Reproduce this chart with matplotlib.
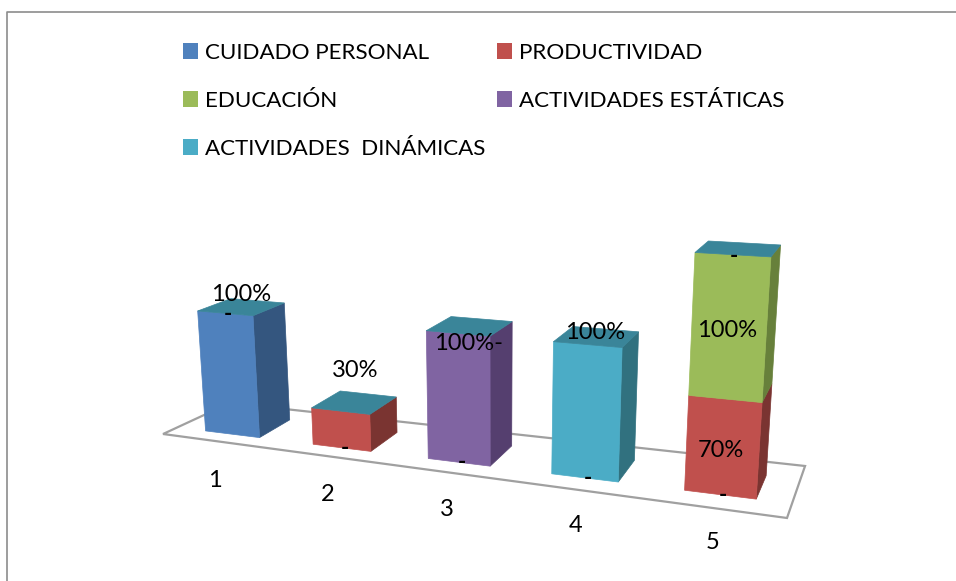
import numpy as np
import matplotlib
matplotlib.use("Agg")
import matplotlib.pyplot as plt
from matplotlib.patches import Patch, Polygon

categories = ["1", "2", "3", "4", "5"]
series_names = ["CUIDADO PERSONAL", "PRODUCTIVIDAD", "EDUCACIÓN", "ACTIVIDADES ESTÁTICAS", "ACTIVIDADES  DINÁMICAS"]
cuidado = [100, 0, 0, 0, 0]
productividad = [0, 30, 0, 0, 70]
educacion = [0, 0, 0, 0, 100]
estaticas = [0, 0, 100, 0, 0]
dinamicas = [0, 0, 0, 100, 0]
series = [cuidado, productividad, educacion, estaticas, dinamicas]

front_colors = ["#4F81BD", "#C0504D", "#9BBB59", "#8064A2", "#4BACC6"]
side_colors = ["#34567F", "#7A3431", "#67803B", "#553F6F", "#31717F"]
top_color = "#3A8599"

# camera fitted to the picture: x = category, y = depth, z = share (1 = 100%)
P = np.array([[98.118906, 42.92805, -13.262569, 232.320322],
              [-1.256791, 1.282274, -129.310247, 434.227154],
              [-0.033074, 0.044921, -0.026829, 1.0]])
BAR_W = 0.51


def project(x, y, z):
    u, v, w = P @ np.array([x, y, z / 100, 1.0])
    return u / w, v / w


def box_face(ax, corners, color):
    ax.add_patch(Polygon([project(*c) for c in corners], closed=True, fc=color, ec=color, lw=0.5, zorder=3))


fig = plt.figure(figsize=(9.56, 5.81), dpi=100)
ax = fig.add_axes([0, 0, 1, 1])
ax.set_xlim(0, 956)
ax.set_ylim(581, 0)
ax.axis("off")
plt.rcParams["font.family"] = ["Lato", "DejaVu Sans"]
FS = 16.1
FS_VAL = 17

# chart border, only left and top show
ax.plot([7.5, 7.5, 956], [581, 12, 12], color="#8C8C8C", lw=1.2, zorder=1)

# floor
floor = [(-0.54, -0.376), (4.502, -0.559), (4.503, 1.627), (-0.487, 1.507)]
ax.add_patch(Polygon([project(x, y, 0) for x, y in floor], closed=True, fc="white", ec="#A0A0A0", lw=1.6, zorder=2))

# stacked bars
for i in range(len(categories)):
    x0, x1 = i - BAR_W / 2, i + BAR_W / 2
    base = 0
    for s, vals in enumerate(series):
        v = vals[i]
        if v == 0:
            continue
        top = base + v
        box_face(ax, [(x1, 0, base), (x1, 1, base), (x1, 1, top), (x1, 0, top)], side_colors[s])
        box_face(ax, [(x0, 0, base), (x1, 0, base), (x1, 0, top), (x0, 0, top)], front_colors[s])
        base = top
    box_face(ax, [(x0, 0, base), (x1, 0, base), (x1, 1, base), (x0, 1, base)], top_color)

# category labels below the floor
for i, name in enumerate(categories):
    u, v = project(i, 0, 0)
    ax.text(u - 17 + 2.5 * i, v + 46 + 0.5 * i, name, fontsize=FS_VAL, ha="center", va="center", zorder=5)

# value labels: moved by hand in the original, so offsets from the top front edge
label_offsets = {0: (16, -19), 1: (15, -41), 3: (8, -12.5)}
for i, (dx, dy) in label_offsets.items():
    total = sum(vals[i] for vals in series)
    u, v = project(i, 0, total)
    ax.text(u + dx, v + dy, f"{total}%", fontsize=FS_VAL, ha="center", va="center", zorder=5)

# bar 3 has its value and the "-" of an empty series run together
u, v = project(2, 0, estaticas[2])
ax.text(u - 23.5, v + 10, f"{estaticas[2]}%-", fontsize=FS_VAL, ha="left", va="center", zorder=5)

# stacked labels on bar 5 sit mid segment
base = 0
for vals in series:
    if vals[4]:
        u, v = project(4, 0, base + vals[4] / 2)
        ax.text(u - 1.5, v + 3, f"{vals[4]}%", fontsize=FS_VAL, ha="center", va="center", zorder=5)
        base += vals[4]

# the "-" labels of the empty series
for i in range(1, len(categories)):
    u, v = project(i, 0, 0)
    ax.text(u + 3, v + 0.5, "-", fontsize=FS, fontweight="bold", ha="center", va="center", zorder=5)
u, v = project(0, 0, 100)
ax.text(u + 2.5, v + 1.5, "-", fontsize=FS, fontweight="bold", ha="center", va="center", zorder=5)
u, v = project(4, 0, 170)
ax.text(u + 1, v + 2, "-", fontsize=FS, fontweight="bold", ha="center", va="center", zorder=5)

# legend is filled column by column
order = [0, 2, 4, 1, 3]
handles = [Patch(fc=front_colors[s], ec="none", label=series_names[s]) for s in order]
ax.legend(handles=handles, ncol=2, loc="upper left", bbox_to_anchor=(183, 43), bbox_transform=ax.transData,
          frameon=False, fontsize=FS, handlelength=0.68, handleheight=0.68, handletextpad=0.32,
          labelspacing=1.25, columnspacing=0.5, borderpad=0, borderaxespad=0)

plt.savefig("out.png", dpi=100)
plt.close()
